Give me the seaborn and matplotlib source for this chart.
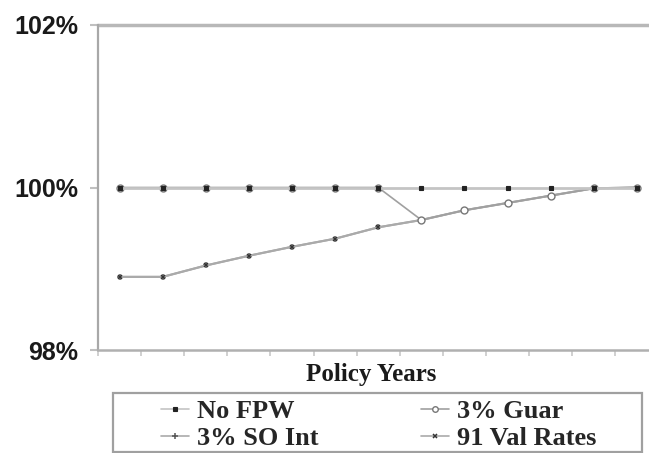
import numpy as np
import pandas as pd
import matplotlib
matplotlib.use("Agg")
import matplotlib.pyplot as plt
from matplotlib.patches import Rectangle
import seaborn as sns

years = list(range(1, 14))
no_fpw = [100.0] * 13
guar_3 = [100.0, 100.0, 100.0, 100.0, 100.0, 100.0, 100.0, 99.60, 99.72, 99.81, 99.90, 99.99, 100.0]
so_int_3 = [98.90, 98.90, 99.04, 99.16, 99.27, 99.37, 99.51, 99.60, 99.72, 99.81, 99.90, 99.99, 100.0]
val_rates_91 = [98.90, 98.90, 99.04, 99.16, 99.27, 99.37, 99.51, 99.60, 99.72, 99.81, 99.90, 99.99, 100.0]
series_names = ["No FPW", "3% Guar", "3% SO Int", "91 Val Rates"]
y_ticks = [98, 100, 102]
y_tick_labels = ["98%", "100%", "102%"]
x_label = "Policy Years"

df = pd.DataFrame({
    "year": years * 4,
    "value": no_fpw + guar_3 + so_int_3 + val_rates_91,
    "series": sum([[n] * 13 for n in series_names], []),
})

sns.set_style("white")
plt.rcParams["font.family"] = ["Liberation Sans", "DejaVu Sans"]

fig = plt.figure(figsize=(6.49, 4.53), dpi=100)
ax = fig.add_axes([98 / 649, (453 - 350) / 453, (658.5 - 98) / 649, 325 / 453])

styles = {
    "No FPW": dict(color="#c4c4c4", marker="s", ms=3.5, mfc="#222222", mec="#222222", lw=2.0),
    "3% Guar": dict(color="#a0a0a0", marker="o", ms=5, mfc="white", mec="#777777", mew=1.0, lw=1.2),
    "3% SO Int": dict(color="#aaaaaa", marker="+", ms=5, mec="#555555", mew=1.1, lw=1.5),
    "91 Val Rates": dict(color="#aaaaaa", marker="x", ms=3.5, mec="#333333", mew=1.1, lw=1.5),
}
ax.axhline(102, color="#b8b8b8", lw=2.5, zorder=1, clip_on=False)

for name in ["3% SO Int", "91 Val Rates", "3% Guar", "No FPW"]:
    sub = df[df["series"] == name]
    st = styles[name]
    sns.lineplot(data=sub, x="year", y="value", ax=ax, color=st["color"], lw=st["lw"],
                 marker=st["marker"], markersize=st["ms"], markerfacecolor=st.get("mfc", st["color"]),
                 markeredgecolor=st["mec"], markeredgewidth=st.get("mew", 0.8),
                 label=name, legend=False, zorder=3)

ax.set_xlim(0.5, 13.5)
ax.set_ylim(98, 102)
ax.set_xticks(np.arange(0.5, 14.0, 1.0))
ax.set_xticklabels([])
ax.set_yticks(y_ticks)
ax.set_yticklabels(y_tick_labels, fontsize=18, fontweight="bold", color="#1a1a1a")
ax.tick_params(axis="y", length=5.8, width=1.5, color="#c0c0c0", pad=8.6, left=True)
ax.tick_params(axis="x", length=4.3, width=1.2, color="#c8c8c8", bottom=True, direction="out")
for s in ["top", "right"]:
    ax.spines[s].set_visible(False)
ax.spines["left"].set_color("#a8a8a8")
ax.spines["left"].set_linewidth(1.6)
ax.spines["bottom"].set_color("#b0b0b0")
ax.spines["bottom"].set_linewidth(1.8)
ax.set_xlabel("")
ax.set_ylabel("")

fig.text(371.5 / 649, 1 - 374 / 453, x_label, ha="center", va="center",
         fontsize=18, fontweight="bold", family=["Liberation Serif", "DejaVu Serif"], color="#1a1a1a")

handles = []
for name in series_names:
    st = styles[name]
    h, = ax.plot([], [], color=st["color"], lw=1.2, marker=st["marker"], ms=st["ms"] * 0.8,
                 mfc=st.get("mfc", st["color"]), mec=st["mec"], mew=st.get("mew", 0.8))
    handles.append(h)
order = [0, 2, 1, 3]
leg = fig.legend([handles[i] for i in order], [series_names[i] for i in order],
                 ncol=2, loc="upper left", bbox_to_anchor=(161 / 649, 1 - 400 / 453),
                 frameon=False, prop={"family": "Liberation Serif", "weight": "bold", "size": 19},
                 handlelength=1.05, handletextpad=0.3, columnspacing=3.9, labelspacing=0.12,
                 borderpad=0.0, borderaxespad=0.0)
fig.patches.append(Rectangle((113 / 649, 1 / 453), 529 / 649, 59 / 453, transform=fig.transFigure,
                             fill=False, edgecolor="#a0a0a0", lw=1.6))

fig.savefig("out.png", dpi=100)
